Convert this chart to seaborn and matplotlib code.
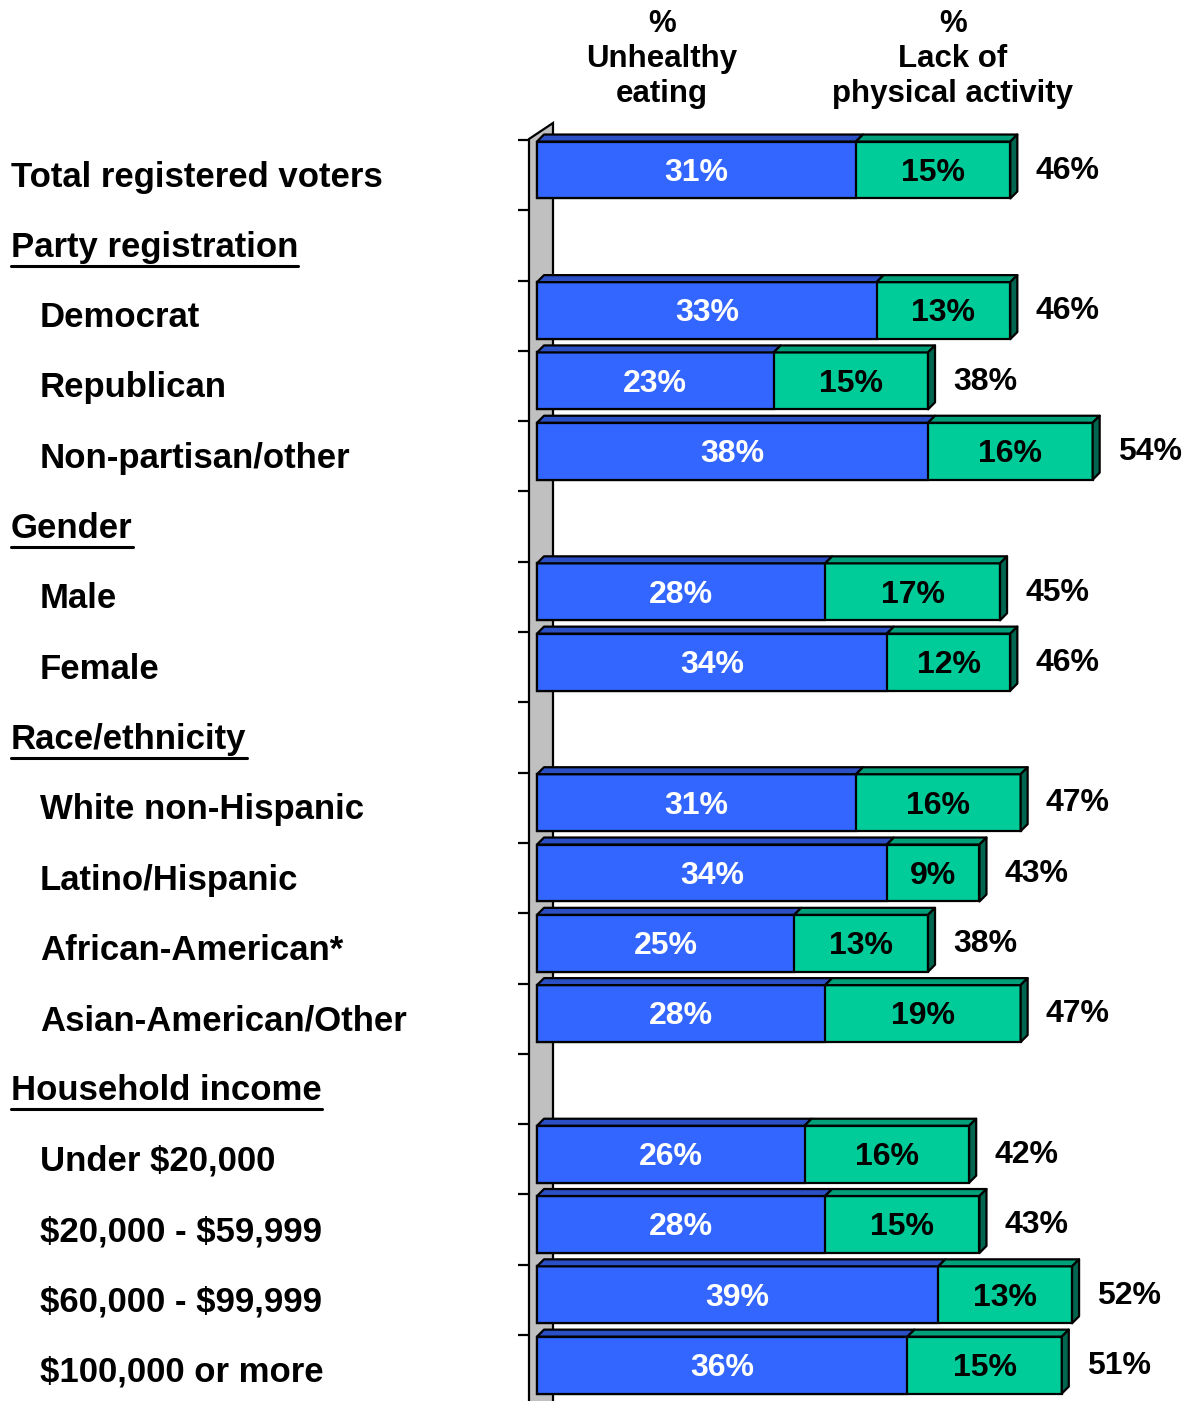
import numpy as np
import pandas as pd
import matplotlib
matplotlib.use("Agg")
import matplotlib.pyplot as plt
from matplotlib.patches import Polygon
from matplotlib.lines import Line2D
import seaborn as sns

# data
groups = ["Total registered voters", "Democrat", "Republican", "Non-partisan/other",
          "Male", "Female", "White non-Hispanic", "Latino/Hispanic", "African-American*",
          "Asian-American/Other", "Under $20,000", "$20,000 - $59,999",
          "$60,000 - $99,999", "$100,000 or more"]
unhealthy = [31, 33, 23, 38, 28, 34, 31, 34, 25, 28, 26, 28, 39, 36]
inactive = [15, 13, 15, 16, 17, 12, 16, 9, 13, 19, 16, 15, 13, 15]
totals = [46, 46, 38, 54, 45, 46, 47, 43, 38, 47, 42, 43, 52, 51]

headers = {"Party registration": 1, "Gender": 5, "Race/ethnicity": 8, "Household income": 13}
rows = ["Total registered voters", "Party registration", "Democrat", "Republican",
        "Non-partisan/other", "Gender", "Male", "Female", "Race/ethnicity",
        "White non-Hispanic", "Latino/Hispanic", "African-American*",
        "Asian-American/Other", "Household income", "Under $20,000",
        "$20,000 - $59,999", "$60,000 - $99,999", "$100,000 or more"]

col_titles = ["%\nUnhealthy\neating", "%\nLack of\nphysical activity"]

df = pd.DataFrame({"label": groups, "unhealthy": unhealthy,
                   "inactive": inactive, "total": totals})

BLUE = "#3366FF"
BLUE_TOP = "#2B4FC4"
GREEN = "#00CC99"
GREEN_TOP = "#00A07A"
GREEN_SIDE = "#006650"
WALL = "#C0C0C0"

W, H = 1187, 1401
S = 10.29          # px per percent
X0 = 537           # px of 0%
Y0 = 170           # px of first row centre
P = 70.3           # px per row

def px(x):
    return (x - X0) / S

def py(y):
    return (y - Y0) / P

sns.set_style("white")
plt.rcParams["font.family"] = ["Liberation Sans", "DejaVu Sans"]
plt.rcParams["text.parse_math"] = False
plt.rcParams["text.color"] = "black"

fig = plt.figure(figsize=(W / 100, H / 100), dpi=100)
ax = fig.add_axes([0, 0, 1, 1])

# wall behind the bars
wall = Polygon([(px(529), py(139)), (px(553), py(123)), (px(553), py(H + 5)),
                (px(529), py(H + 5))], closed=True, facecolor=WALL,
               edgecolor="black", linewidth=1.6, zorder=0)
ax.add_patch(wall)

bh = 0.81
sns.barplot(data=df, x="total", y="label", order=rows, color=GREEN, saturation=1,
            width=bh, edgecolor="black", linewidth=1.6, errorbar=None, ax=ax, zorder=2)
sns.barplot(data=df, x="unhealthy", y="label", order=rows, color=BLUE, saturation=1,
            width=bh, edgecolor="black", linewidth=1.6, errorbar=None, ax=ax, zorder=3)

ax.set_xlim(px(0), px(W))
ax.set_ylim(py(H), py(0))
ax.axis("off")

dx = 7 / S
dy = 7 / P
for i, g in enumerate(groups):
    r = rows.index(g)
    u, t = unhealthy[i], totals[i]
    top, bot = r - bh / 2, r + bh / 2
    faces = [
        ([(0, top), (dx, top - dy), (u + dx, top - dy), (u, top)], BLUE_TOP),
        ([(u, top), (u + dx, top - dy), (t + dx, top - dy), (t, top)], GREEN_TOP),
        ([(t, top), (t + dx, top - dy), (t + dx, bot - dy), (t, bot)], GREEN_SIDE),
    ]
    for pts, c in faces:
        ax.add_patch(Polygon(pts, closed=True, facecolor=c, edgecolor="black",
                             linewidth=1.6, zorder=4, joinstyle="round"))
    ax.text(u / 2, r + 0.04, f"{u}%", ha="center", va="center", color="white",
            fontsize=23, fontweight="bold", zorder=5)
    ax.text((u + t) / 2, r + 0.04, f"{inactive[i]}%", ha="center", va="center",
            color="black", fontsize=23, fontweight="bold", zorder=5)
    ax.text(t + 25 / S, r + 0.01, f"{t}%", ha="left", va="center",
            color="black", fontsize=23, fontweight="bold", zorder=5)

# tick marks on the wall
for k in range(19):
    yk = k - 0.427
    ax.plot([px(518), px(530)], [yk, yk], color="black", linewidth=1.6,
            solid_capstyle="butt", zorder=1)

# row labels
label_texts = []
for r, name in enumerate(rows):
    if name in headers:
        t_ = ax.text(px(11), r + 0.1, name, ha="left", va="center", color="black",
                     fontsize=25, fontweight="bold")
        label_texts.append(t_)
    else:
        xx = 11 if name == "Total registered voters" else 40
        ax.text(px(xx), r + 0.1, name, ha="left", va="center", color="black",
                fontsize=25, fontweight="bold")

# column titles
fig.text(662 / W, 1 - 59 / H, col_titles[0], ha="center", va="center", color="black",
         fontsize=22.5, fontweight="bold", linespacing=1.2)
fig.text(953 / W, 1 - 59 / H, col_titles[1], ha="center", va="center", color="black",
         fontsize=22.5, fontweight="bold", linespacing=1.2)

# underline the section headers
fig.canvas.draw()
rend = fig.canvas.get_renderer()
for t_ in label_texts:
    bb = t_.get_window_extent(rend)
    yline = (bb.y0 - 2) / H
    fig.add_artist(Line2D([bb.x0 / W, bb.x1 / W], [yline, yline],
                          transform=fig.transFigure, color="black", linewidth=2.2))

fig.savefig("out.png", dpi=100)
